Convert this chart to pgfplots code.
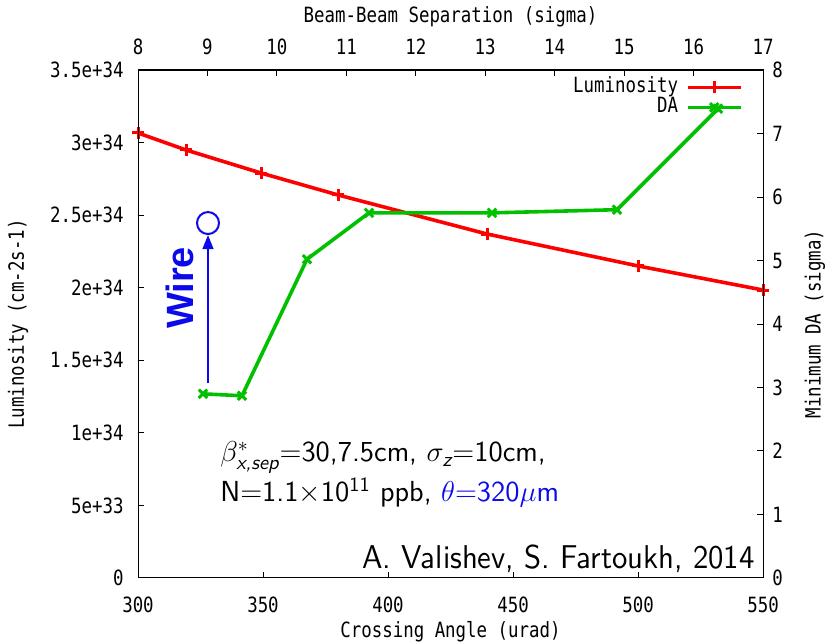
\documentclass[border=0pt]{standalone}
\usepackage{amsmath}
\usepackage{pgfplots}
\pgfplotsset{compat=1.18}
\usetikzlibrary{arrows.meta}
\usepackage{fontspec}
\newfontfamily\gpfont[FakeStretch=0.83]{DejaVu Sans Mono}
\newfontfamily\wirefont{Liberation Sans}
\newfontfamily\condsans[FakeStretch=0.93]{lmsans10-regular.otf}
\newcommand\gp{\gpfont\fontsize{10.5}{12}\selectfont}
\definecolor{lumired}{RGB}{255,0,0}
\definecolor{dagreen}{RGB}{0,192,0}
\definecolor{wireblue}{RGB}{10,10,235}

\pgfplotsset{
  gpaxis/.style={
    scale only axis, width=312.5pt, height=254pt,
    at={(69pt,32pt)}, anchor=south west,
    xmin=300, xmax=550, clip=false,
    scaled x ticks=false, scaled y ticks=false,
    tick align=inside, major tick length=3pt,
    axis line style={line width=0.5pt},
    every tick/.style={black, line width=0.5pt},
    tick label style={font=\gp, inner sep=0pt},
  },
  gpline/.style={line width=1.8pt, mark size=3pt, mark options={solid, line width=1.5pt}},
}

\begin{document}
\begin{tikzpicture}
\useasboundingbox (0,0) rectangle (412.5pt,321pt);

% luminosity against crossing angle (left and bottom scales)
\begin{axis}[gpaxis,
  ymin=0, ymax=3.5e34,
  xtick pos=lower, xticklabel pos=lower,
  ytick pos=left, yticklabel pos=left,
  xtick={300,350,400,450,500,550},
  xticklabels={300,350,400,450,500,550},
  xticklabel style={anchor=center, yshift=-13.5pt},
  ytick={0,5e33,1e34,1.5e34,2e34,2.5e34,3e34,3.5e34},
  yticklabels={0,5e+33,1e+34,1.5e+34,2e+34,2.5e+34,3e+34,3.5e+34},
  yticklabel style={anchor=east, xshift=-7pt},
]
\addplot[lumired, gpline, mark=+] coordinates {
  (300,3.066e34) (319.2,2.949e34) (349.2,2.790e34) (380,2.639e34)
  (439.6,2.370e34) (500,2.150e34) (550,1.984e34)};
\end{axis}

% dynamic aperture (right scale) with beam-beam separation on top
\begin{axis}[gpaxis,
  ymin=0, ymax=8,
  xtick pos=upper, xticklabel pos=upper,
  ytick pos=right, yticklabel pos=right,
  xtick={300,327.78,355.56,383.33,411.11,438.89,466.67,494.44,522.22,550},
  xticklabels={8,9,10,11,12,13,14,15,16,17},
  xticklabel style={anchor=center, yshift=11.5pt},
  ytick={0,1,2,3,4,5,6,7,8},
  yticklabels={0,1,2,3,4,5,6,7,8},
  yticklabel style={anchor=west, xshift=4.5pt},
  legend plot pos=right, legend cell align=right,
  legend style={at={(rel axis cs:1,1)}, anchor=north east, xshift=-10pt, yshift=-3.5pt,
    draw=none, fill=none, font=\gp, inner sep=0pt, column sep=4pt,
    nodes={inner sep=0pt, text height=7.5pt, text depth=2.5pt}},
  legend image code/.code={
    \draw[mark repeat=2, mark phase=2] plot coordinates {(0pt,0pt) (13.25pt,0pt) (26.5pt,0pt)};},
]
\addlegendimage{lumired, gpline, mark=+}
\addlegendentry{Luminosity}
\addplot[dagreen, gpline, mark=x] coordinates {
  (326,2.90) (341.6,2.87) (367.6,5.02) (392.4,5.75)
  (441.6,5.75) (491.6,5.80) (532,7.39)};
\addlegendentry{DA}
% with the wire compensator
\addplot[only marks, wireblue, mark=o, mark size=5.5pt, mark options={line width=1pt}, forget plot]
  coordinates {(328,5.59)};
\draw[wireblue, line width=0.7pt, -{Triangle[length=7pt, width=5.5pt]}]
  (axis cs:328,3.07) -- (axis cs:328,5.40);
\end{axis}

% axis titles
\node[font=\gp] at (225.25pt,5pt) {Crossing Angle (urad)};
\node[font=\gp] at (225.25pt,312.5pt) {Beam-Beam Separation (sigma)};
\node[font=\gp, rotate=90] at (9pt,159pt) {Luminosity (cm-2s-1)};
\node[font=\gp, rotate=90] at (407.5pt,159pt) {Minimum DA (sigma)};

% annotations
\node[rotate=90, text=wireblue, font=\wirefont\bfseries\fontsize{19}{20}\selectfont, inner sep=0pt]
  at (90pt,177pt) {Wire};
\node[anchor=base west, inner sep=0pt, font=\sffamily\fontsize{14.5}{17}\selectfont]
  at (110pt,90pt) {$\beta^{*}_{\textsf{\itshape x,sep}}{=}$30,7.5cm, $\sigma_{\textsf{\itshape z}}{=}$10cm,};
\node[anchor=base west, inner sep=0pt, font=\sffamily\fontsize{14.5}{17}\selectfont]
  at (110pt,70pt) {N${=}$1.1$\times$10$^{\textsf{11}}$ ppb, {\color{wireblue}$\theta{=}$320$\mu$m}};
\node[anchor=base east, inner sep=0pt, font=\condsans\fontsize{16.5}{18}\selectfont]
  at (377.5pt,36.5pt) {A. Valishev, S. Fartoukh, 2014};
\end{tikzpicture}
\end{document}
